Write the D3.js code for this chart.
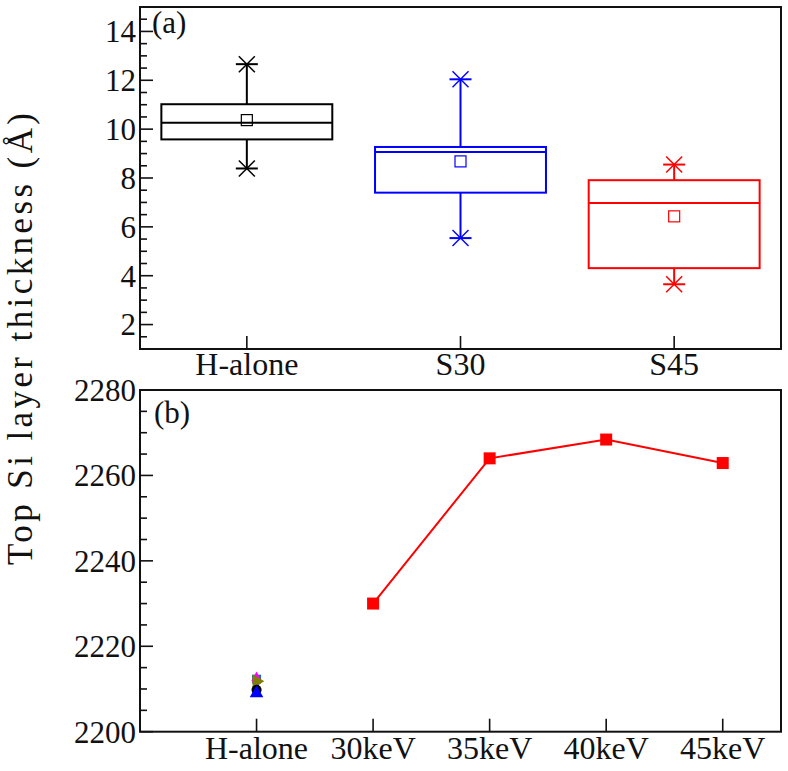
<!DOCTYPE html>
<html>
<head>
<meta charset="utf-8">
<script src="https://cdn.jsdelivr.net/npm/d3@7"></script>
</head>
<body style="margin:0">
<svg id="fig" width="788" height="771"></svg>
<script>
// ---------- Data ----------
const boxCategories = ["H-alone", "S30", "S45"];
const boxMin    = [8.39, 5.54, 3.65];
const boxQ1     = [9.58, 7.40, 4.31];
const boxMedian = [10.26, 9.06, 6.98];
const boxQ3     = [11.02, 9.27, 7.91];
const boxMax    = [12.66, 12.04, 8.55];
const boxMean   = [10.37, 8.68, 6.43];
const boxColors = ["#000000", "#0000ff", "#ff0000"];
const topYTicks = [2, 4, 6, 8, 10, 12, 14];

const energyCategories = ["H-alone", "30keV", "35keV", "40keV", "45keV"];
const energySeries = ["30keV", "35keV", "40keV", "45keV"];
const energyValues = [2230.0, 2264.0, 2268.4, 2262.9];
const hAloneNames  = ["s1", "s2", "s3", "s4", "s5"];
const hAloneValues = [2212.3, 2212.0, 2211.8, 2209.8, 2209.0];
const hAloneColors = ["#008080", "#ff00ff", "#808000", "#000000", "#0000ff"];
const hAloneShapes = ["square", "diamond", "triangleRight", "circle", "triangle"];
const bottomYTicks = [2200, 2220, 2240, 2260, 2280];

// ---------- Layout ----------
const svg = d3.select("#fig");
const left = 140, right = 781;
const topPanel = { top: 7, bottom: 349 };
const botPanel = { top: 390, bottom: 731.7 };
const axisColor = "#111";
const txt = (sel, size) => sel.attr("style", `font-family: 'Liberation Serif', serif !important; font-size: ${size}px; fill: #111;`);

// ---------- Top panel ----------
const xTop = d3.scaleLinear().domain([0.5, 3.5]).range([left, right]);
const yTop = d3.scaleLinear().domain([1, 15]).range([topPanel.bottom, topPanel.top]);
const gTop = svg.append("g");

const topMinor = d3.range(1.5, 15, 0.5).filter(v => !topYTicks.includes(v));
gTop.selectAll("line.minor").data(topMinor).join("line")
  .attr("x1", left).attr("x2", left + 7)
  .attr("y1", d => yTop(d)).attr("y2", d => yTop(d))
  .attr("stroke", axisColor).attr("stroke-width", 1.6);
gTop.selectAll("line.major").data(topYTicks).join("line")
  .attr("x1", left).attr("x2", left + 13)
  .attr("y1", d => yTop(d)).attr("y2", d => yTop(d))
  .attr("stroke", axisColor).attr("stroke-width", 1.6);
gTop.selectAll("text.ytick").data(topYTicks).join("text")
  .attr("x", left - 4).attr("y", d => yTop(d)).attr("dy", "0.35em")
  .attr("text-anchor", "end").text(d => d).call(txt, 31);
gTop.selectAll("line.xtick").data(boxCategories).join("line")
  .attr("x1", (d, i) => xTop(i + 1)).attr("x2", (d, i) => xTop(i + 1))
  .attr("y1", topPanel.bottom).attr("y2", topPanel.bottom - 13)
  .attr("stroke", axisColor).attr("stroke-width", 1.6);
gTop.selectAll("text.xtick").data(boxCategories).join("text")
  .attr("x", (d, i) => xTop(i + 1)).attr("y", topPanel.bottom + 26)
  .attr("text-anchor", "middle").text(d => d).call(txt, 32);

// boxes
const boxW = (xTop(1) - xTop(0)) * 0.8;
boxCategories.forEach((c, i) => {
  const cx = xTop(i + 1), col = boxColors[i];
  const g = gTop.append("g").attr("stroke", col).attr("fill", "none");
  g.append("line").attr("x1", cx).attr("x2", cx)
    .attr("y1", yTop(boxQ3[i])).attr("y2", yTop(boxMax[i])).attr("stroke-width", 2);
  g.append("line").attr("x1", cx).attr("x2", cx)
    .attr("y1", yTop(boxQ1[i])).attr("y2", yTop(boxMin[i])).attr("stroke-width", 2);
  g.append("rect").attr("x", cx - boxW / 2).attr("width", boxW)
    .attr("y", yTop(boxQ3[i])).attr("height", yTop(boxQ1[i]) - yTop(boxQ3[i]))
    .attr("stroke-width", 2);
  g.append("line").attr("x1", cx - boxW / 2).attr("x2", cx + boxW / 2)
    .attr("y1", yTop(boxMedian[i])).attr("y2", yTop(boxMedian[i])).attr("stroke-width", 2);
  [boxMax[i], boxMin[i]].forEach(v => {
    const y = yTop(v);
    g.append("line").attr("x1", cx - 11).attr("x2", cx + 11).attr("y1", y).attr("y2", y).attr("stroke-width", 2);
    g.append("line").attr("x1", cx - 8).attr("x2", cx + 8).attr("y1", y - 8).attr("y2", y + 8).attr("stroke-width", 1.5);
    g.append("line").attr("x1", cx - 8).attr("x2", cx + 8).attr("y1", y + 8).attr("y2", y - 8).attr("stroke-width", 1.5);
  });
  g.append("rect").attr("x", cx - 5.5).attr("y", yTop(boxMean[i]) - 5.5)
    .attr("width", 11).attr("height", 11).attr("stroke-width", 1.2);
});

gTop.append("rect").attr("x", left).attr("y", topPanel.top)
  .attr("width", right - left).attr("height", topPanel.bottom - topPanel.top)
  .attr("fill", "none").attr("stroke", axisColor).attr("stroke-width", 2);
gTop.append("text").attr("x", 152).attr("y", 33).text("(a)").call(txt, 31);

// ---------- Bottom panel ----------
const xBot = d3.scaleLinear().domain([-1, 4.5]).range([left, right]);
const yBot = d3.scaleLinear().domain([2200, 2280]).range([botPanel.bottom, botPanel.top]);
const gBot = svg.append("g");

const botMinor = d3.range(2205, 2280, 5).filter(v => !bottomYTicks.includes(v));
gBot.selectAll("line.minor").data(botMinor).join("line")
  .attr("x1", left).attr("x2", left + 7)
  .attr("y1", d => yBot(d)).attr("y2", d => yBot(d))
  .attr("stroke", axisColor).attr("stroke-width", 1.6);
gBot.selectAll("line.major").data(bottomYTicks).join("line")
  .attr("x1", left).attr("x2", left + 13)
  .attr("y1", d => yBot(d)).attr("y2", d => yBot(d))
  .attr("stroke", axisColor).attr("stroke-width", 1.6);
gBot.selectAll("text.ytick").data(bottomYTicks).join("text")
  .attr("x", left - 4).attr("y", d => yBot(d)).attr("dy", "0.35em")
  .attr("text-anchor", "end").text(d => d).call(txt, 31);
gBot.selectAll("line.xtick").data(energyCategories).join("line")
  .attr("x1", (d, i) => xBot(i)).attr("x2", (d, i) => xBot(i))
  .attr("y1", botPanel.bottom).attr("y2", botPanel.bottom - 13)
  .attr("stroke", axisColor).attr("stroke-width", 1.6);
gBot.selectAll("text.xtick").data(energyCategories).join("text")
  .attr("x", (d, i) => xBot(i)).attr("y", botPanel.bottom + 27)
  .attr("text-anchor", "middle").text(d => d).call(txt, 32);

const xIdx = name => energyCategories.indexOf(name);
const line = d3.line().x((d, i) => xBot(xIdx(energySeries[i]))).y(d => yBot(d));
gBot.append("path").datum(energyValues).attr("d", line)
  .attr("fill", "none").attr("stroke", "#ff0000").attr("stroke-width", 2);
gBot.selectAll("rect.pt").data(energyValues).join("rect")
  .attr("x", (d, i) => xBot(xIdx(energySeries[i])) - 6)
  .attr("y", d => yBot(d) - 6).attr("width", 12).attr("height", 12)
  .attr("fill", "#ff0000");

const shapeMap = {
  square: d3.symbolSquare, diamond: d3.symbolDiamond, circle: d3.symbolCircle,
  triangle: d3.symbolTriangle, triangleRight: d3.symbolTriangle
};
hAloneValues.forEach((v, i) => {
  const sym = d3.symbol().type(shapeMap[hAloneShapes[i]]).size(hAloneShapes[i] === "diamond" ? 90 : 80);
  gBot.append("path").attr("d", sym())
    .attr("transform", `translate(${xBot(0)},${yBot(v)})` + (hAloneShapes[i] === "triangleRight" ? " rotate(90)" : ""))
    .attr("fill", hAloneColors[i]);
});

gBot.append("rect").attr("x", left).attr("y", botPanel.top)
  .attr("width", right - left).attr("height", botPanel.bottom - botPanel.top)
  .attr("fill", "none").attr("stroke", axisColor).attr("stroke-width", 2);
gBot.append("text").attr("x", 154).attr("y", 423).text("(b)").call(txt, 31);

// ---------- Shared y title ----------
svg.append("text")
  .attr("transform", "translate(32,339) rotate(-90)")
  .attr("text-anchor", "middle")
  .attr("textLength", 452).attr("lengthAdjust", "spacing")
  .text("Top Si layer thickness (Å)").call(txt, 35);
</script>
</body>
</html>
